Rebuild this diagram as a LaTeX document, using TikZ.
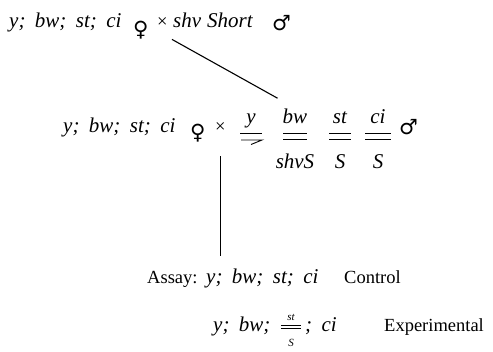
\documentclass[tikz,border=0pt]{standalone}
\usepackage{fontspec}
\setmainfont{Liberation Serif}
\newfontfamily\symfont{DejaVu Sans}
\usepackage{tikz}
\usetikzlibrary{calc}
\newcommand{\gsize}{\fontsize{18.5}{22}\selectfont}
\newcommand{\genfont}{\fontsize{21}{25}\selectfont\itshape\spaceskip=0.45em plus 0.1em\relax}
\tikzset{
    gen/.style  ={inner sep=0pt, anchor=base west, font=\genfont},
    txt/.style  ={inner sep=0pt, anchor=base west, font=\gsize},
    sex/.style  ={inner sep=0pt, anchor=base west, font=\symfont\fontsize{21}{25}\selectfont},
    fem/.style  ={sex, yshift=-9pt},
    smallgen/.style={inner sep=0pt, anchor=base, font=\fontsize{11}{13}\selectfont\itshape},
    bar/.style  ={line width=0.9pt},
    link/.style ={line width=1.1pt}
}
% fraction of two homologues: name, x centre, upper, lower, half width
\newcommand{\homol}[5]{%
  \node[gen, anchor=base] (#1u) at (#2,123) {#3};
  \node[gen, anchor=base] (#1l) at (#2,168) {#4};
  \draw[bar] (#2-#5,133) -- (#2+#5,133) (#2-#5,139) -- (#2+#5,139);}

\begin{document}
\begin{tikzpicture}[x=1pt, y=-1pt]
  \useasboundingbox (0,0) rectangle (493,351);
  % first cross
  \node[gen] (pf) at (9,27) {y; bw; st; ci};
  \node[fem] (fem1) at (133,27) {♀};
  \node[txt] (x1) at (157,27) {×};
  \node[gen] (shv) at (173,27) {shv};
  \node[gen] (short) at (207,27) {Short};
  \node[sex] (male1) at (272,30) {♂};

  % second cross
  \node[gen] (df) at (63,132) {y; bw; st; ci};
  \node[fem, yshift=2pt] (fem2) at (190,132) {♀};
  \node[txt] (x2) at (215,132) {×};
  \node[gen, anchor=base] (yu) at (251,123) {y};
  \draw[bar] (240,133) -- (262,133);
  \draw[bar] (241,140) -- (262,140) -- (251,144.5);
  \homol{bw}{295}{bw}{shvS}{12}
  \homol{st}{340}{st}{S}{11}
  \homol{ci}{378}{ci}{S}{13}
  \node[sex] (male2) at (399,134) {♂};

  % assay
  \node[txt] (assay) at (147,283) {Assay:};
  \node[gen] (ctlg) at (206,283) {y; bw; st; ci};
  \node[txt] (ctl) at (344,283) {Control};
  \node[gen] (expg) at (213,331) {y; bw;};
  \node[smallgen] (expu) at (291,320) {st};
  \node[smallgen] (expl) at (291,346) {S};
  \draw[bar, line width=0.6pt] (281,325) -- (301,325) (281,328) -- (301,328);
  \node[gen] (expr) at (305,331) {; ci};
  \node[txt] (exp) at (384,331) {Experimental};

  % connections
  \draw[link] ([shift={(-1,-12pt)}]shv.south west) -- ([shift={(-5,10pt)}]bwu.north west);
  \draw[link] ([yshift=-24pt]x2.south) -- ([yshift=12pt]x2.south |- ctlg.north);
\end{tikzpicture}
\end{document}
